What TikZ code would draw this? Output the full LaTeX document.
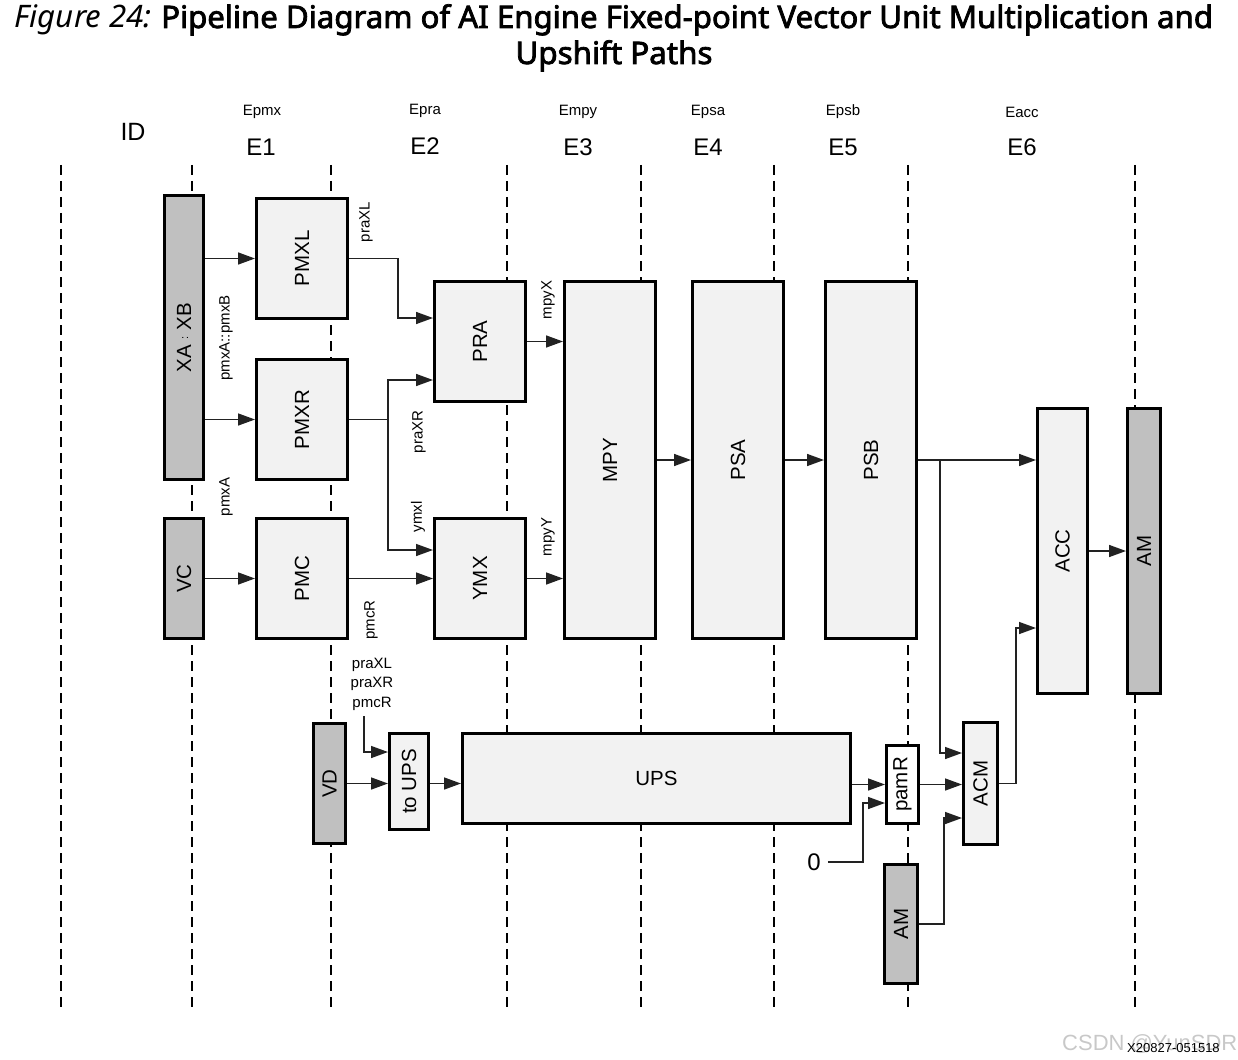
\documentclass[tikz,border=0pt]{standalone}
\usepackage{fontspec}
\usepackage{graphicx}
\setmainfont{Liberation Sans}
\newfontfamily\titlefont{Noto Sans}[AutoFakeBold=2.5]
\usetikzlibrary{arrows.meta,calc}
\definecolor{boxfill}{HTML}{F2F2F2}
\definecolor{boxgray}{HTML}{C0C0C0}
\definecolor{wmark}{HTML}{C8C8C8}
\definecolor{wirec}{HTML}{222222}
\begin{document}
\begin{tikzpicture}[x=1pt,y=-1pt,
  blk/.style={draw=black,line width=3pt,fill=boxfill,inner sep=0pt,font=\fontsize{20.5}{20.5}\selectfont},
  gblk/.style={blk,fill=boxgray},
  wblk/.style={blk,fill=white},
  sig/.style={font=\fontsize{15}{15}\selectfont,rotate=90,inner sep=0pt},
  stage/.style={font=\fontsize{24}{24}\selectfont,inner sep=0pt},
  sub/.style={font=\fontsize{15}{15}\selectfont,inner sep=0pt},
  conn/.style={draw=wirec,line width=1.5pt,-{Triangle[length=17pt,width=12pt]}},
  wire/.style={draw=wirec,line width=1.5pt},
  grid/.style={line width=1.4pt,dash pattern=on 10pt off 6pt}]
\useasboundingbox (0,0) rectangle (1238,1059);

% title
\node[anchor=base,inner sep=0pt] (title1) at (614,28)
  {\resizebox{1198pt}{\height}{\titlefont\fontsize{31}{31}\selectfont{\itshape Figure 24:}\hspace{0.3em}\bfseries Pipeline Diagram of AI Engine Fixed-point Vector Unit Multiplication and}};
\node[anchor=base,inner sep=0pt] (title2) at (614,64)
  {\resizebox{197pt}{\height}{\titlefont\fontsize{31}{31}\selectfont\bfseries Upshift Paths}};

% watermark
\node[anchor=base west,inner sep=0pt,text=wmark,font=\fontsize{22}{22}\selectfont] (wm) at (1062,1050) {CSDN @YunSDR};
\node[anchor=base west,inner sep=0pt,font=\fontsize{13}{13}\selectfont] (fig) at (1127,1052) {X20827-051518};

% stage grid
\foreach \x in {61,192,331,507,641,774,908,1135}
  \draw[grid] (\x,165) -- (\x,1010);

% stage headers
\node[font=\fontsize{25}{25}\selectfont,inner sep=0pt] (id) at (133,132) {ID};
\node[stage] (e1) at (261,147) {E1};
\node[stage] (e2) at (425,146) {E2};
\node[stage] (e3) at (578,147) {E3};
\node[stage] (e4) at (708,147) {E4};
\node[stage] (e5) at (843,147) {E5};
\node[stage] (e6) at (1022,147) {E6};
\node[sub] (s1) at (262,112) {Epmx};
\node[sub] (s2) at (425,111) {Epra};
\node[sub] (s3) at (578,112) {Empy};
\node[sub] (s4) at (708,112) {Epsa};
\node[sub] (s5) at (843,112) {Epsb};
\node[sub] (s6) at (1022,112) {Eacc};

% blocks
\node[gblk,minimum width=39pt,minimum height=284pt] (xa) at (184,337.5)
  {\rotatebox{90}{XA \raisebox{3pt}{\fontsize{11}{11}\selectfont:} XB}};
\node[blk,minimum width=91pt,minimum height=120pt] (pmxl) at (302,258.5) {\rotatebox{90}{PMXL}};
\node[blk,minimum width=91pt,minimum height=120pt] (pmxr) at (302,419.5) {\rotatebox{90}{PMXR}};
\node[gblk,minimum width=39pt,minimum height=120pt] (vc) at (184,578.5) {\rotatebox{90}{VC}};
\node[blk,minimum width=91pt,minimum height=120pt] (pmc) at (302,578.5) {\rotatebox{90}{PMC}};
\node[blk,minimum width=91pt,minimum height=120pt] (pra) at (480,341.5) {\rotatebox{90}{PRA}};
\node[blk,minimum width=91pt,minimum height=120pt] (ymx) at (480,578.5) {\rotatebox{90}{YMX}};
\node[blk,minimum width=91pt,minimum height=357pt] (mpy) at (610,460) {\rotatebox{90}{MPY}};
\node[blk,minimum width=91pt,minimum height=357pt] (psa) at (738,460) {\rotatebox{90}{PSA}};
\node[blk,minimum width=91pt,minimum height=357pt] (psb) at (871,460) {\rotatebox{90}{PSB}};
\node[blk,minimum width=50pt,minimum height=285pt] (acc) at (1062.5,551) {\rotatebox{90}{ACC}};
\node[gblk,minimum width=33pt,minimum height=285pt] (amr) at (1144,551) {\rotatebox{90}{AM}};
\node[gblk,minimum width=32pt,minimum height=120pt] (vd) at (329.5,783.5) {\rotatebox{90}{VD}};
\node[blk,minimum width=39pt,minimum height=96pt] (toups) at (409,781.5) {\rotatebox{90}{to UPS}};
\node[blk,minimum width=388pt,minimum height=90pt] (ups) at (656.5,778.5) {UPS};
\node[wblk,minimum width=32pt,minimum height=78pt] (pamr) at (902.5,784.5) {\rotatebox{90}{pamR}};
\node[blk,minimum width=34pt,minimum height=122pt] (acm) at (980.5,783.5) {\rotatebox{90}{ACM}};
\node[gblk,minimum width=33pt,minimum height=119pt] (amb) at (901,924) {\rotatebox{90}{AM}};

% signal labels
\node[sig] (lpraxl) at (366,222) {praXL};
\node[sig] (lpmxab) at (226,338) {pmxA::pmxB};
\node[sig] (lmpyx) at (548,300) {mpyX};
\node[sig] (lpraxr) at (419,432) {praXR};
\node[sig] (lpmxa) at (226,497) {pmxA};
\node[sig] (lymxl) at (418,517) {ymxl};
\node[sig] (lmpyy) at (548,537) {mpyY};
\node[sig] (lpmcr) at (371,620) {pmcR};
\node[align=center,font=\fontsize{15}{19.5}\selectfont,inner sep=0pt] (upsin) at (372,684) {praXL\\praXR\\pmcR};
\node[font=\fontsize{24}{24}\selectfont,inner sep=0pt] (zero) at (814,862) {0};
\coordinate (upsinc) at (364,716);

% connectors
\draw[conn] (xa.east |- pmxl.west) -- (pmxl.west);
\draw[conn] (xa.east |- pmxr.west) -- (pmxr.west);
\draw[conn] (vc.east) -- (pmc.west);
\draw[conn] (pmxl.east) -| (398,318) -- ($(pra.west)+(0,-23.5)$);
\draw[wire] (pmxr.east) -- (388,419.5);
\draw[conn] (388,419.5) |- ($(pra.west)+(0,38.5)$);
\draw[conn] (388,419.5) |- ($(ymx.west)+(0,-28.5)$);
\draw[conn] (pmc.east) -- (ymx.west);
\draw[conn] (pra.east) -- (pra.east -| mpy.west);
\draw[conn] (ymx.east) -- (ymx.east -| mpy.west);
\draw[conn] (mpy.east) -- (psa.west);
\draw[conn] (psa.east) -- (psb.west);
\draw[conn] (psb.east) -- (psb.east -| acc.west);
\draw[conn] (940,460) |- ($(acm.west)+(0,-30.5)$);
\draw[conn] (acc.east |- amr.west) -- (amr.west);
\draw[conn] (acm.east) -| (1016,628) -- ($(acc.west)+(0,77)$);
\draw[conn] (pamr.east) -- (pamr.east -| acm.west);
\draw[conn] (amb.east) -| (944,818) -- ($(acm.west)+(0,34.5)$);
\draw[conn] (ups.east |- pamr.west) -- (pamr.west);
\draw[conn] (zero.east) ++(7,0) -| (863,803) -- ($(pamr.west)+(0,18.5)$);
\draw[conn] (vd.east) -- (vd.east -| toups.west);
\draw[conn] (toups.east |- vd.east) -- (vd.east -| ups.west);
\draw[conn] (upsinc) |- ($(toups.west)+(0,-29.5)$);
\end{tikzpicture}
\end{document}
